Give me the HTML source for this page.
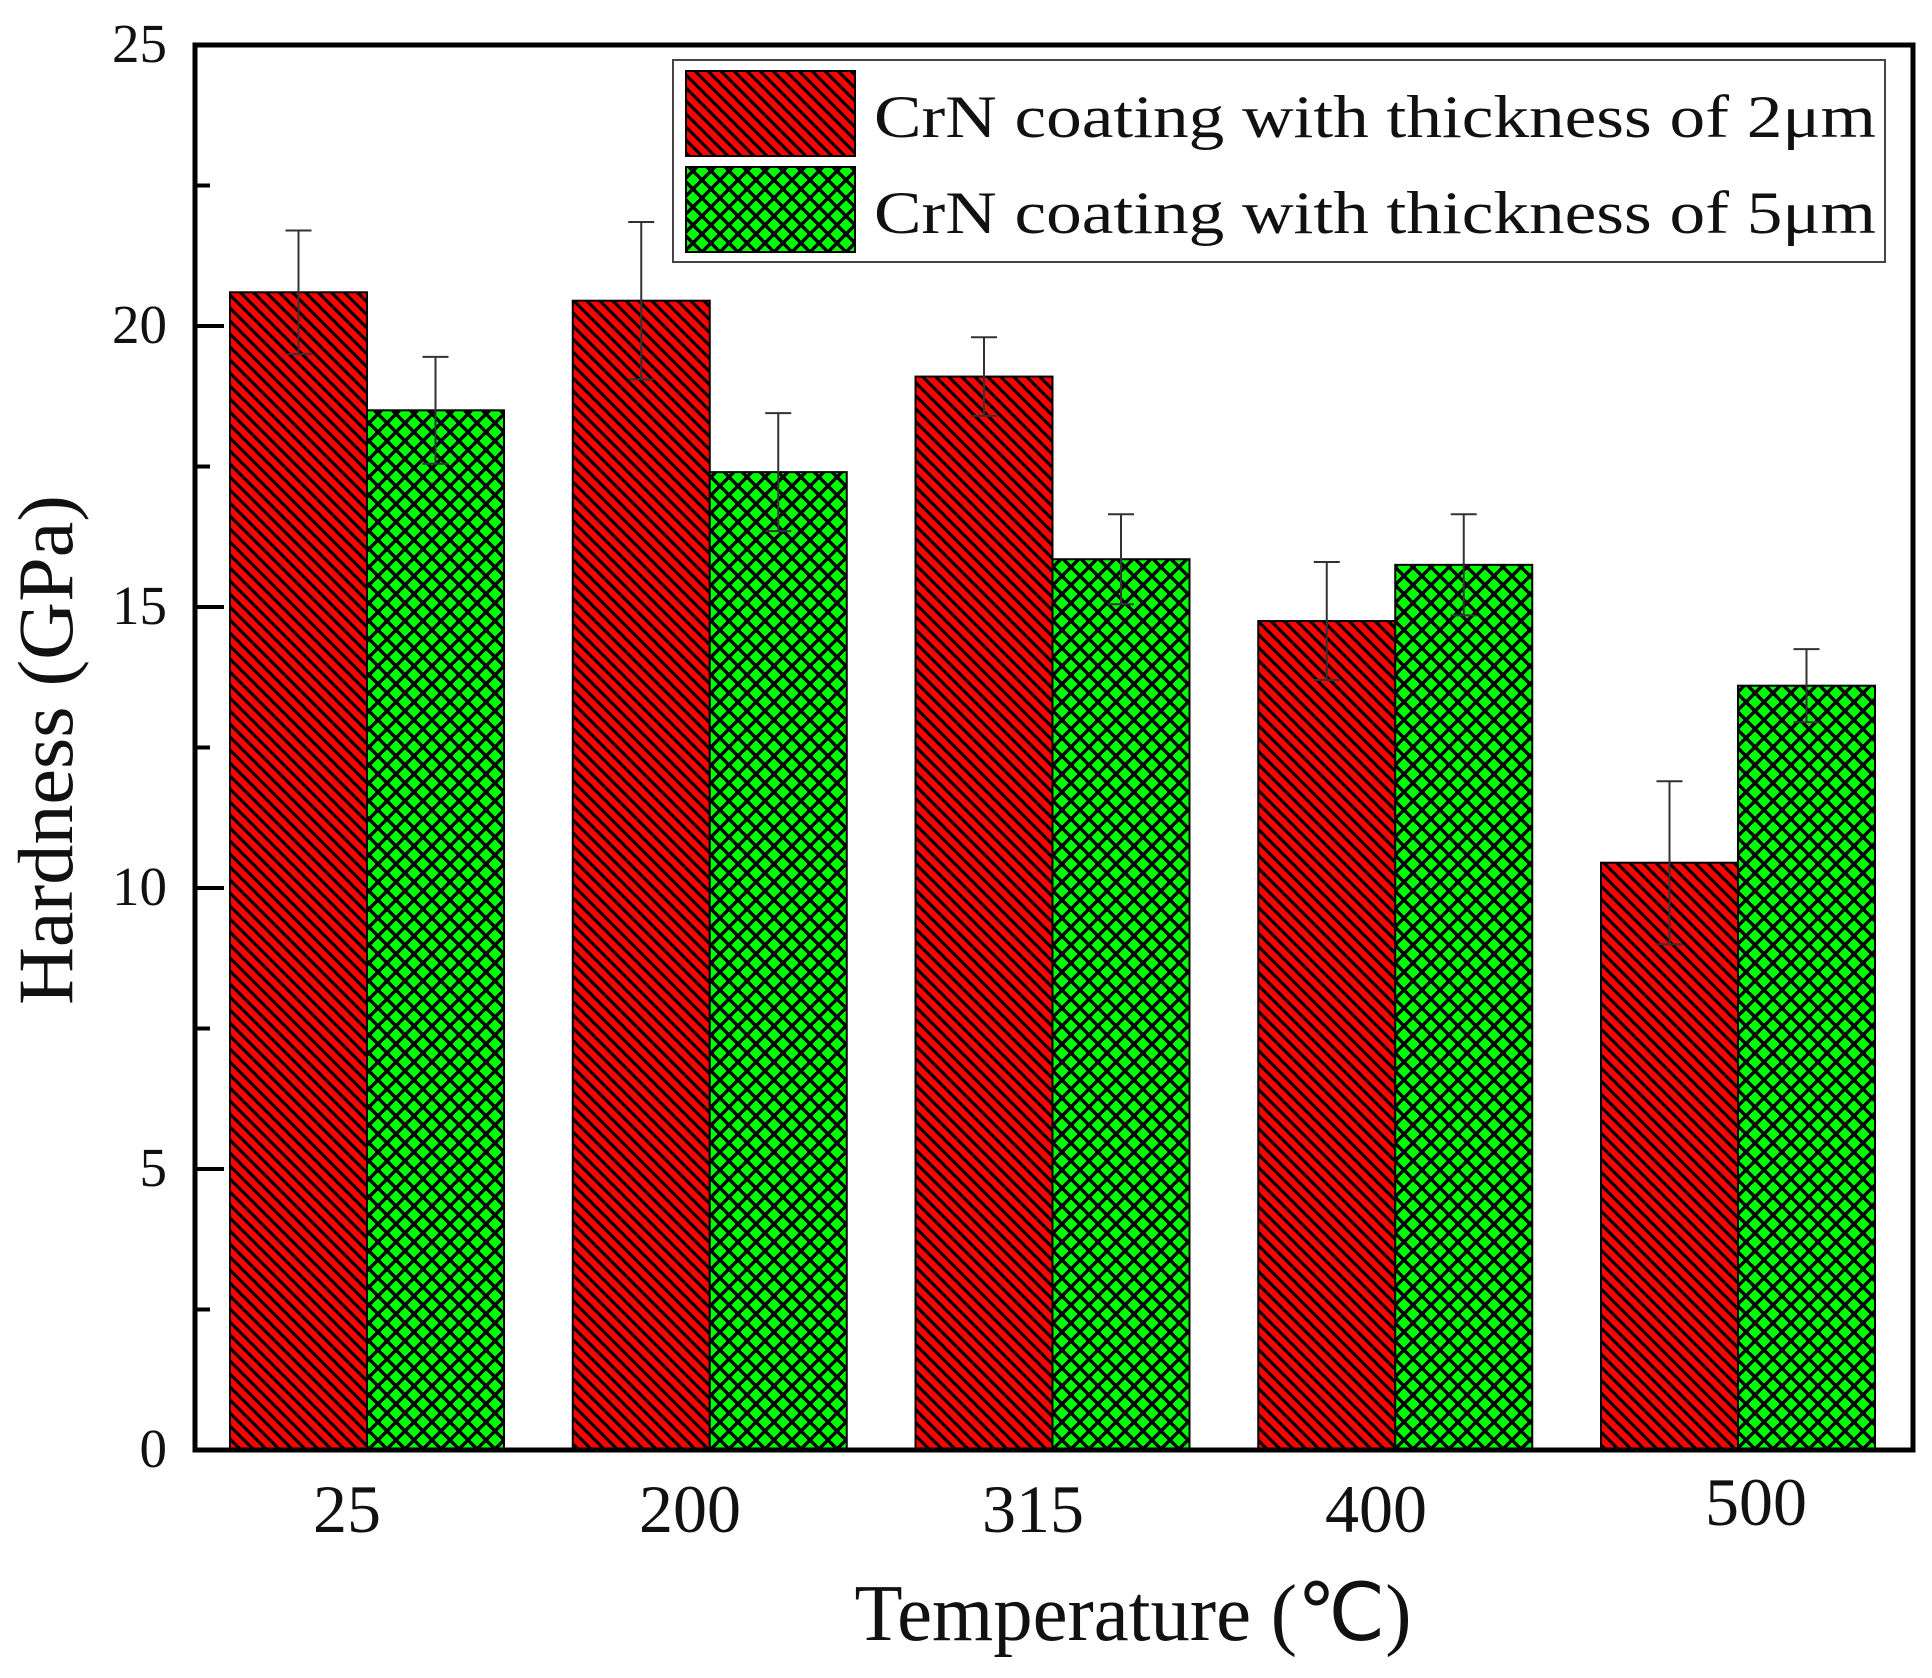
<!DOCTYPE html>
<html><head><meta charset="utf-8"><style>html,body{margin:0;padding:0;background:#fff}svg{display:block}</style></head>
<body>
<svg width="1932" height="1678" viewBox="0 0 1932 1678" xmlns="http://www.w3.org/2000/svg" font-family="'Liberation Serif', serif">
<defs>
<pattern id="pr" patternUnits="userSpaceOnUse" width="13" height="13">
<rect width="13" height="13" fill="#ff0000"/>
<path d="M-3,-3 L16,16 M-3,10 L3,16 M10,-3 L16,3" stroke="#000" stroke-width="3.2"/>
</pattern>
<pattern id="pg" patternUnits="userSpaceOnUse" width="18" height="18">
<rect width="18" height="18" fill="#00ff00"/>
<path d="M-2,-2 L20,20 M20,-2 L-2,20" stroke="#000" stroke-width="3.4"/>
</pattern>
</defs>
<rect width="1932" height="1678" fill="#fff"/>
<g id="bars"></g>
<script>
(function(){
var y0=1450,k=56.2,g=document.getElementById('bars'),ns='http://www.w3.org/2000/svg';
var red=[20.6,20.45,19.1,14.75,10.45],rt=[21.7,21.85,19.8,15.8,11.9];
var grn=[18.5,17.4,15.85,15.75,13.6],gt=[19.45,18.45,16.65,16.65,14.25];
function el(n,a){var e=document.createElementNS(ns,n);for(var i in a)e.setAttribute(i,a[i]);g.appendChild(e);return e;}
for(var i=0;i<5;i++){
 var x=230+i*342.75,w=137;
 [[x,red[i],rt[i],'url(#pr)'],[x+w,grn[i],gt[i],'url(#pg)']].forEach(function(b){
  var top=y0-b[1]*k;
  el('rect',{x:b[0],y:top,width:w,height:y0-top,fill:b[3],stroke:'#000','stroke-width':2});
  var cx=b[0]+w/2,et=y0-b[2]*k,eb=y0-(2*b[1]-b[2])*k;
  el('path',{d:'M'+cx+','+et+'V'+eb+'M'+(cx-13)+','+et+'H'+(cx+13)+'M'+(cx-13)+','+eb+'H'+(cx+13),stroke:'#333','stroke-width':2,fill:'none'});
 });
}
})();
</script>
<rect x="195" y="45" width="1718" height="1405" fill="none" stroke="#000" stroke-width="5"/>
<g stroke="#000" stroke-width="4">
<path d="M195,1450H224M195,1169H224M195,888H224M195,607H224M195,326H224M195,45H224"/>
<path d="M195,1309.5H210M195,1028.5H210M195,747.5H210M195,466.5H210M195,185.5H210"/>
</g>
<g font-size="55" text-anchor="end" fill="#111">
<text x="167" y="1467">0</text>
<text x="167" y="1186">5</text>
<text x="167" y="905">10</text>
<text x="167" y="624">15</text>
<text x="167" y="343">20</text>
<text x="167" y="62">25</text>
</g>
<g font-size="68" text-anchor="middle" fill="#111">
<text x="347" y="1532">25</text>
<text x="690" y="1532">200</text>
<text x="1033" y="1532">315</text>
<text x="1376" y="1532">400</text>
<text x="1756" y="1525">500</text>
</g>
<text x="1133" y="1640" font-size="80" text-anchor="middle" textLength="557" lengthAdjust="spacingAndGlyphs" fill="#111">Temperature (℃)</text>
<text transform="translate(72,750) rotate(-90)" font-size="78" text-anchor="middle" textLength="510" lengthAdjust="spacingAndGlyphs" fill="#111">Hardness (GPa)</text>
<rect x="673" y="60" width="1212" height="202" fill="#fff" stroke="#444" stroke-width="2"/>
<rect x="686" y="71" width="169" height="85" fill="url(#pr)" stroke="#000" stroke-width="2"/>
<rect x="686" y="167" width="169" height="85" fill="url(#pg)" stroke="#000" stroke-width="2"/>
<text x="874" y="137" font-size="60" textLength="1002" lengthAdjust="spacingAndGlyphs" fill="#111">CrN coating with thickness of 2μm</text>
<text x="874" y="233" font-size="60" textLength="1002" lengthAdjust="spacingAndGlyphs" fill="#111">CrN coating with thickness of 5μm</text>
</svg>
</body></html>
